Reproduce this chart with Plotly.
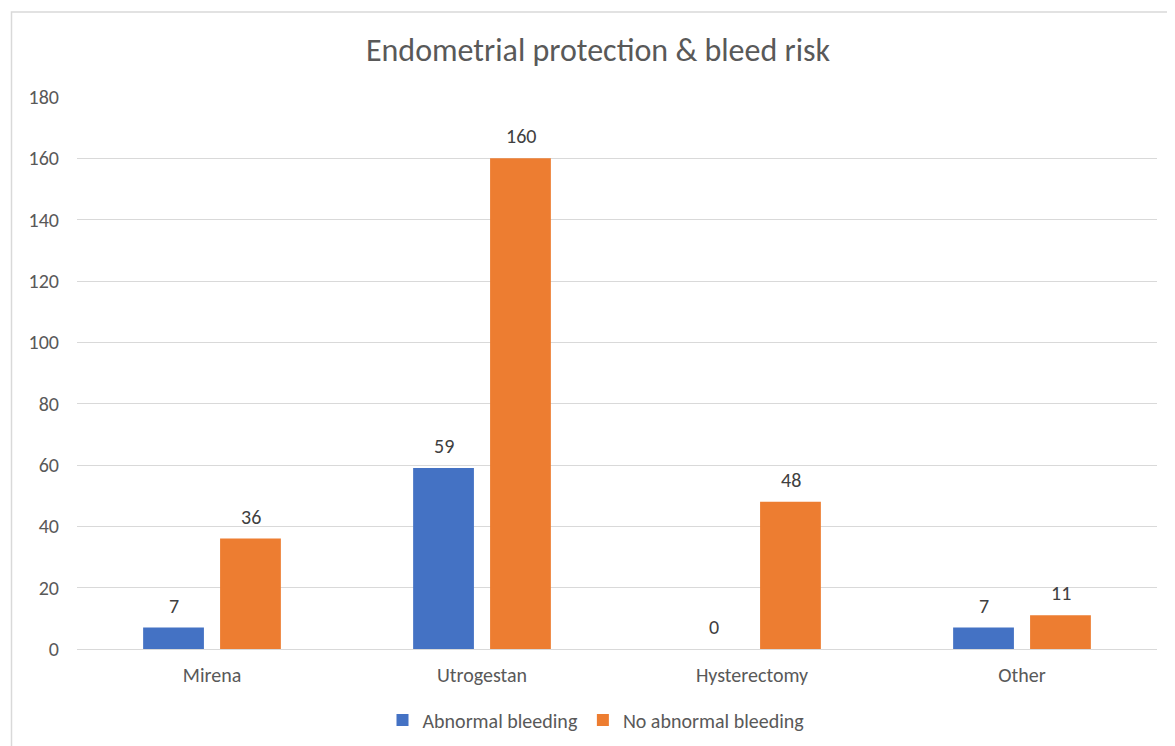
import plotly.graph_objects as go

categories = ["Mirena", "Utrogestan", "Hysterectomy", "Other"]
abnormal = [7, 59, 0, 7]
no_abnormal = [36, 160, 48, 11]
y_ticks = [0, 20, 40, 60, 80, 100, 120, 140, 160, 180]

FONT = "Carlito, Lato, Open Sans, sans-serif"
FW, FH = 1167, 738          # page body has an 8px margin
OFF = 8
L, R, T, B = 77 - OFF, 1157 - OFF, 97 - OFF, 649 - OFF
W, H = R - L, B - T
def px_x(p): return (p - OFF - L) / W
def px_y(p): return (B - (p - OFF)) / H

fig = go.Figure()
fig.add_trace(go.Bar(x=categories, y=abnormal, name="Abnormal bleeding",
                     marker_color="#4472C4", marker_line_width=0))
fig.add_trace(go.Bar(x=categories, y=no_abnormal, name="No abnormal bleeding",
                     marker_color="#ED7D31", marker_line_width=0))

annotations = []
for series, shift in ((abnormal, -38.5), (no_abnormal, 38.5)):
    for c, v in zip(categories, series):
        annotations.append(dict(x=c, y=v, xref="x", yref="y", text=str(v), showarrow=False,
                                xshift=shift, yshift=22, yanchor="middle", xanchor="center",
                                font=dict(size=20, color="#404040", family=FONT)))

fig.update_layout(
    width=FW, height=FH,
    margin=dict(l=L, r=FW - R, t=T, b=FH - B, autoexpand=False),
    paper_bgcolor="white", plot_bgcolor="white",
    barmode="group", bargap=0.43, bargroupgap=0.21,
    font=dict(family=FONT, color="#595959", size=20),
    title=dict(text="Endometrial protection & bleed risk", x=(598 - OFF) / FW, xanchor="center",
               y=1 - (50 - OFF) / FH, yanchor="middle",
               font=dict(size=32, color="#595959", family=FONT)),
    xaxis=dict(showgrid=False, showline=False, ticks="", ticklabelstandoff=12,
               tickfont=dict(size=20, color="#595959")),
    yaxis=dict(range=[0, 180], tickvals=y_ticks, showgrid=True, gridcolor="#d9d9d9", gridwidth=1.3,
               zeroline=True, zerolinecolor="#d9d9d9", zerolinewidth=1.3, showline=False,
               ticks="", ticklabelstandoff=17, tickfont=dict(size=20, color="#595959")),
    legend=dict(orientation="h", x=px_x(596), xanchor="center", y=px_y(720), yanchor="middle",
                font=dict(size=20, color="#595959"), itemwidth=30, tracegroupgap=0),
    showlegend=True,
    annotations=annotations,
    shapes=[dict(type="rect", xref="paper", yref="paper",
                 x0=px_x(11.5), x1=px_x(1200), y0=px_y(780), y1=px_y(12),
                 line=dict(color="#d9d9d9", width=1.5), fillcolor="rgba(0,0,0,0)", layer="below")],
)

fig.write_html("out.html")
